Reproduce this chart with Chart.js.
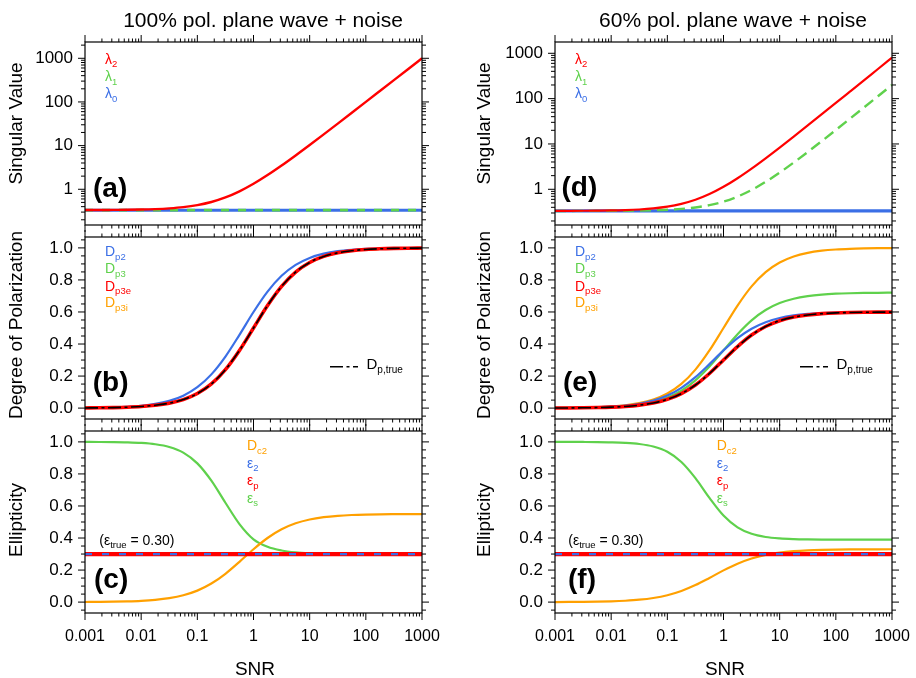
<!DOCTYPE html>
<html>
<head>
<meta charset="utf-8">
<script src="https://cdn.jsdelivr.net/npm/chart.js@4.4.1/dist/chart.umd.min.js"></script>
<style>
  html, body { margin: 0; padding: 0; background: #ffffff; }
  #wrap { position: relative; width: 916px; height: 678px; background: #ffffff; overflow: hidden; }
  #wrap canvas { position: absolute; left: 0; top: 0; }
</style>
</head>
<body>
<div id="wrap">
  <canvas id="pa" width="916" height="678"></canvas>
  <canvas id="pb" width="916" height="678"></canvas>
  <canvas id="pc" width="916" height="678"></canvas>
  <canvas id="pd" width="916" height="678"></canvas>
  <canvas id="pe" width="916" height="678"></canvas>
  <canvas id="pf" width="916" height="678"></canvas>
</div>
<script>
// ---- SNR sample points (quarter-decade steps) ----
const snr = [0.001, 0.001778, 0.003162, 0.005623, 0.01, 0.01778, 0.03162, 0.05623,
             0.1, 0.1778, 0.3162, 0.5623, 1, 1.778, 3.162, 5.623,
             10, 17.78, 31.62, 56.23, 100, 177.8, 316.2, 562.3, 1000];

// ---- tick labels ----
const xTickLabels = ['0.001', '0.01', '0.1', '1', '10', '100', '1000'];
const svTickLabels = ['1', '10', '100', '1000'];
const fracTickLabels = ['0.0', '0.2', '0.4', '0.6', '0.8', '1.0'];

// ---- (a) singular values, 100% polarized ----
const lam2A = [0.334, 0.335, 0.337, 0.339, 0.343, 0.351, 0.365, 0.389, 0.433, 0.511, 0.649, 0.896,
               1.333, 2.111, 3.495, 5.956, 10.33, 18.11, 31.95, 56.56, 100.3, 178.1, 316.5, 562.6, 1000.3];
const lam1A = [0.333, 0.333, 0.333, 0.333, 0.333, 0.333, 0.333, 0.333, 0.333, 0.333, 0.333, 0.333,
               0.333, 0.333, 0.333, 0.333, 0.333, 0.333, 0.333, 0.333, 0.333, 0.333, 0.333, 0.333, 0.333];
const lam0A = [0.333, 0.333, 0.333, 0.333, 0.333, 0.333, 0.333, 0.333, 0.333, 0.333, 0.333, 0.333,
               0.333, 0.333, 0.333, 0.333, 0.333, 0.333, 0.333, 0.333, 0.333, 0.333, 0.333, 0.333, 0.333];

// ---- (d) singular values, 60% polarized ----
const lam2D = [0.334, 0.335, 0.336, 0.338, 0.341, 0.347, 0.358, 0.378, 0.413, 0.476, 0.586, 0.783,
               1.133, 1.755, 2.863, 4.832, 8.333, 14.56, 25.63, 45.32, 80.33, 142.6, 253.3, 450.3, 800.3];
const lam1D = [0.333, 0.333, 0.334, 0.334, 0.335, 0.337, 0.340, 0.345, 0.353, 0.369, 0.397, 0.446,
               0.533, 0.689, 0.966, 1.458, 2.333, 3.889, 6.657, 11.58, 20.33, 35.89, 63.57, 112.8, 200.3];
const lam0D = [0.333, 0.333, 0.333, 0.333, 0.333, 0.333, 0.333, 0.333, 0.333, 0.333, 0.333, 0.333,
               0.333, 0.333, 0.333, 0.333, 0.333, 0.333, 0.333, 0.333, 0.333, 0.333, 0.333, 0.333, 0.333];

// ---- (b) degree of polarization, 100% polarized ----
const dp2B = [0.0015, 0.0027, 0.0047, 0.0084, 0.0148, 0.026, 0.0453, 0.0778, 0.1304, 0.2105, 0.3217, 0.4575,
              0.6, 0.7273, 0.8259, 0.894, 0.9375, 0.9638, 0.9794, 0.9883, 0.9934, 0.9963, 0.9979, 0.9988, 0.9993];
const dp3B = [0.001, 0.0018, 0.0032, 0.0056, 0.0099, 0.0175, 0.0307, 0.0532, 0.0909, 0.1509, 0.2402, 0.36,
              0.5, 0.64, 0.7598, 0.849, 0.9091, 0.9468, 0.9693, 0.9825, 0.9901, 0.9944, 0.9968, 0.9982, 0.999];
const dp3eB = dp3B;
const dp3iB = dp3B;
const dpTrueB = dp3B;

// ---- (e) degree of polarization, 60% polarized ----
const dp2E = [0.0009, 0.0016, 0.0028, 0.005, 0.0089, 0.0156, 0.0272, 0.0467, 0.0782, 0.1263, 0.193, 0.2745,
              0.36, 0.4364, 0.4955, 0.5364, 0.5625, 0.5783, 0.5876, 0.593, 0.596, 0.5978, 0.5987, 0.5993, 0.5996];
const dp3E = [0.0007, 0.0013, 0.0023, 0.004, 0.0071, 0.0126, 0.0221, 0.0384, 0.0656, 0.1088, 0.1732, 0.2596,
              0.3606, 0.4615, 0.5479, 0.6122, 0.6556, 0.6828, 0.699, 0.7085, 0.714, 0.717, 0.7188, 0.7198, 0.7204];
const dp3eE = [0.0006, 0.0011, 0.0019, 0.0034, 0.0059, 0.0105, 0.0184, 0.0319, 0.0545, 0.0905, 0.1441, 0.216,
               0.3, 0.384, 0.4559, 0.5094, 0.5455, 0.5681, 0.5816, 0.5895, 0.5941, 0.5966, 0.5981, 0.5989, 0.5994];
const dp3iE = [0.001, 0.0018, 0.0032, 0.0056, 0.0099, 0.0175, 0.0307, 0.0532, 0.0909, 0.1509, 0.2402, 0.36,
               0.5, 0.64, 0.7598, 0.849, 0.9091, 0.9468, 0.9693, 0.9825, 0.9901, 0.9944, 0.9968, 0.9982, 0.999];
const dpTrueE = dp3eE;

// ---- (c) ellipticity, 100% polarized ----
const dc2C = [0.0008, 0.0015, 0.0026, 0.0046, 0.0081, 0.0143, 0.0249, 0.0428, 0.0717, 0.1158, 0.1769, 0.2516,
              0.33, 0.4, 0.4542, 0.4917, 0.5156, 0.5301, 0.5387, 0.5436, 0.5464, 0.548, 0.5488, 0.5493, 0.5496];
const epsSC = [0.9997, 0.9994, 0.9987, 0.9971, 0.9935, 0.9855, 0.9685, 0.933, 0.866, 0.758, 0.62, 0.487,
               0.392, 0.345, 0.322, 0.3104, 0.3047, 0.3021, 0.3009, 0.3004, 0.3002, 0.3001, 0.3, 0.3, 0.3];
const eps2C = [0.3, 0.3, 0.3, 0.3, 0.3, 0.3, 0.3, 0.3, 0.3, 0.3, 0.3, 0.3,
               0.3, 0.3, 0.3, 0.3, 0.3, 0.3, 0.3, 0.3, 0.3, 0.3, 0.3, 0.3, 0.3];
const epsPC = [0.3, 0.3, 0.3, 0.3, 0.3, 0.3, 0.3, 0.3, 0.3, 0.3, 0.3, 0.3,
               0.3, 0.3, 0.3, 0.3, 0.3, 0.3, 0.3, 0.3, 0.3, 0.3, 0.3, 0.3, 0.3];

// ---- (f) ellipticity, 60% polarized ----
const dc2F = [0.0005, 0.0009, 0.0016, 0.0028, 0.0049, 0.0086, 0.0149, 0.0257, 0.043, 0.0695, 0.1062, 0.151,
              0.198, 0.24, 0.2725, 0.295, 0.3094, 0.318, 0.3232, 0.3261, 0.3278, 0.3288, 0.3293, 0.3296, 0.3298];
const epsSF = [1.0, 0.9998, 0.9995, 0.9989, 0.9974, 0.9942, 0.987, 0.9711, 0.938, 0.8747, 0.7739, 0.6506,
               0.5404, 0.4666, 0.4262, 0.4064, 0.3973, 0.3932, 0.3914, 0.3906, 0.3903, 0.3901, 0.39, 0.39, 0.39];
const eps2F = [0.3, 0.3, 0.3, 0.3, 0.3, 0.3, 0.3, 0.3, 0.3, 0.3, 0.3, 0.3,
               0.3, 0.3, 0.3, 0.3, 0.3, 0.3, 0.3, 0.3, 0.3, 0.3, 0.3, 0.3, 0.3];
const epsPF = [0.3, 0.3, 0.3, 0.3, 0.3, 0.3, 0.3, 0.3, 0.3, 0.3, 0.3, 0.3,
               0.3, 0.3, 0.3, 0.3, 0.3, 0.3, 0.3, 0.3, 0.3, 0.3, 0.3, 0.3, 0.3];

// ---- style ----
const FONT = '"Liberation Sans", Arimo, Arial, Helvetica, sans-serif';
const RED = '#ff0000', GREEN = '#5fd14c', BLUE = '#3b6fe6', ORANGE = '#ffa000', BLACK = '#000000';
const DASHDOT = [13, 3.5, 3, 3.5];

const COLS = { left: { l: 85, r: 422 }, right: { l: 555, r: 892 } };
const ROWS = [{ t: 42, b: 225 }, { t: 237, b: 419 }, { t: 431, b: 613 }];

const pts = ys => snr.map((x, i) => ({ x, y: ys[i] }));
const line = (label, ys, color, width, dash) => ({
  label, data: pts(ys), borderColor: color, borderWidth: width,
  borderDash: dash || [], pointRadius: 0, fill: false, cubicInterpolationMode: 'monotone'
});

// tick-mark positions
function logMarks(min, max) {
  const out = [];
  for (let e = Math.floor(Math.log10(min)); e <= Math.ceil(Math.log10(max)); e++) {
    for (let m = 1; m <= 9; m++) {
      const v = m * Math.pow(10, e);
      if (v >= min * 0.9999 && v <= max * 1.0001) out.push({ v, major: m === 1 });
    }
  }
  return out;
}
function fracMarks(min, max) {
  const out = [];
  for (let k = -4; k <= 24; k++) {
    const v = k * 0.05;
    if (v >= min && v <= max) out.push({ v, major: k % 4 === 0 });
  }
  return out;
}
const xMarks = logMarks(0.001, 1000);

function isDecade(v) {
  const lg = Math.log10(v);
  return Math.abs(lg - Math.round(lg)) < 1e-6 ? Math.round(lg) : null;
}
const xLabel = v => { const e = isDecade(v); return (e !== null && e >= -3 && e <= 3) ? xTickLabels[e + 3] : ''; };
const svLabel = v => { const e = isDecade(v); return (e !== null && e >= 0 && e <= 3) ? svTickLabels[e] : ''; };
const fracLabel = v => {
  const k = Math.round(v / 0.2);
  return (Math.abs(v - k * 0.2) < 1e-6 && k >= 0 && k <= 5) ? fracTickLabels[k] : '';
};

// ---- text helpers ----
const M = 14, S = 9.5;
function rich(x, y, color, parts, main, sub) {
  return { x, y, color, parts, main: main || M, sub: sub || S };
}
function drawRich(ctx, item) {
  let cx = item.x;
  ctx.fillStyle = item.color;
  ctx.textAlign = 'left';
  ctx.textBaseline = 'alphabetic';
  for (const [t, kind] of item.parts) {
    const size = kind === 's' ? item.sub : item.main;
    const dy = kind === 's' ? item.main * 0.27 : 0;
    ctx.font = size + 'px ' + FONT;
    ctx.fillText(t, cx, item.y + dy);
    cx += ctx.measureText(t).width;
  }
}

const decorById = {};

const decorPlugin = {
  id: 'decor',
  afterDraw(chart) {
    const d = decorById[chart.canvas.id];
    if (!d) return;
    const ctx = chart.ctx;
    const a = chart.chartArea;
    const xs = chart.scales.x, ys = chart.scales.y;
    ctx.save();
    // frame
    ctx.strokeStyle = BLACK;
    ctx.lineWidth = 1.2;
    ctx.setLineDash([]);
    ctx.strokeRect(a.left, a.top, a.right - a.left, a.bottom - a.top);
    // outward tick marks on all four sides
    ctx.lineWidth = 1;
    ctx.beginPath();
    for (const t of xMarks) {
      const px = xs.getPixelForValue(t.v);
      const len = t.major ? 7 : 3.5;
      ctx.moveTo(px, a.top); ctx.lineTo(px, a.top - len);
      ctx.moveTo(px, a.bottom); ctx.lineTo(px, a.bottom + len);
    }
    for (const t of d.yMarks) {
      const py = ys.getPixelForValue(t.v);
      const len = t.major ? 7 : 4;
      ctx.moveTo(a.left, py); ctx.lineTo(a.left - len, py);
      ctx.moveTo(a.right, py); ctx.lineTo(a.right + len, py);
    }
    ctx.stroke();
    // legend entries
    for (const item of d.texts) drawRich(ctx, item);
    // dash-dot legend sample
    if (d.sample) {
      ctx.strokeStyle = BLACK;
      ctx.lineWidth = 1.6;
      ctx.setLineDash(DASHDOT);
      ctx.beginPath();
      ctx.moveTo(d.sample.x1, d.sample.y);
      ctx.lineTo(d.sample.x2, d.sample.y);
      ctx.stroke();
      ctx.setLineDash([]);
    }
    // panel tag
    ctx.fillStyle = BLACK;
    ctx.font = 'bold 28px ' + FONT;
    ctx.textAlign = 'left';
    ctx.textBaseline = 'alphabetic';
    ctx.fillText(d.tag.t, d.tag.x, d.tag.y);
    // y-axis title
    ctx.save();
    ctx.translate(d.ytitle.x, d.ytitle.y);
    ctx.rotate(-Math.PI / 2);
    ctx.font = '19px ' + FONT;
    ctx.textAlign = 'center';
    ctx.textBaseline = 'middle';
    ctx.fillText(d.ytitle.t, 0, 0);
    ctx.restore();
    // column title
    if (d.title) {
      ctx.font = '21px ' + FONT;
      ctx.textAlign = 'center';
      ctx.textBaseline = 'alphabetic';
      ctx.fillText(d.title.t, d.title.x, d.title.y);
    }
    // x-axis title
    if (d.xtitle) {
      ctx.font = '19px ' + FONT;
      ctx.textAlign = 'center';
      ctx.textBaseline = 'alphabetic';
      ctx.fillText(d.xtitle.t, d.xtitle.x, d.xtitle.y);
    }
    ctx.restore();
  }
};

function makePanel(id, col, row, yScale, datasets) {
  const c = COLS[col], rw = ROWS[row];
  const bottomRow = row === 2;
  const xAxisH = bottomRow ? 40 : 0;
  return new Chart(document.getElementById(id), {
    type: 'line',
    data: { datasets },
    options: {
      responsive: false,
      animation: false,
      devicePixelRatio: 1,
      events: [],
      layout: { padding: { left: 0, top: rw.t, right: 916 - c.r, bottom: 678 - rw.b - xAxisH } },
      plugins: { legend: { display: false }, tooltip: { enabled: false } },
      scales: {
        x: {
          type: 'logarithmic', min: 0.001, max: 1000, display: bottomRow,
          grid: { display: false, drawTicks: false }, border: { display: false },
          ticks: { autoSkip: false, maxRotation: 0, minRotation: 0, padding: 14, color: BLACK,
                   font: { family: FONT, size: 16 }, callback: xLabel },
          afterFit: s => { s.height = xAxisH; s.paddingLeft = 0; s.paddingRight = 0; }
        },
        y: Object.assign({
          grid: { display: false, drawTicks: false }, border: { display: false },
          afterFit: s => { s.width = c.l; s.paddingTop = 0; s.paddingBottom = 0; }
        }, yScale)
      }
    },
    plugins: [decorPlugin]
  });
}

const yTicksFont = { family: FONT, size: 17 };
const logY = (min, max) => ({ type: 'logarithmic', min, max,
  ticks: { autoSkip: false, padding: 12, color: BLACK, font: yTicksFont, callback: svLabel } });
const fracY = () => ({ type: 'linear', min: -0.068, max: 1.068,
  ticks: { autoSkip: false, stepSize: 0.2, includeBounds: false, padding: 12, color: BLACK, font: yTicksFont, callback: fracLabel } });

// ---- panel decorations ----
decorById.pa = {
  yMarks: logMarks(0.152, 2360),
  texts: [
    rich(105, 63.5, RED, [['λ', 'm'], ['2', 's']]),
    rich(105, 81, GREEN, [['λ', 'm'], ['1', 's']]),
    rich(105, 98, BLUE, [['λ', 'm'], ['0', 's']])
  ],
  tag: { t: '(a)', x: 93, y: 197 },
  ytitle: { t: 'Singular Value', x: 17, y: 123.5 },
  title: { t: '100% pol. plane wave + noise', x: 263, y: 26.5 }
};
decorById.pd = {
  yMarks: logMarks(0.163, 1775),
  texts: [
    rich(575, 63.5, RED, [['λ', 'm'], ['2', 's']]),
    rich(575, 81, GREEN, [['λ', 'm'], ['1', 's']]),
    rich(575, 98, BLUE, [['λ', 'm'], ['0', 's']])
  ],
  tag: { t: '(d)', x: 561.5, y: 196 },
  ytitle: { t: 'Singular Value', x: 485, y: 123.5 },
  title: { t: '60% pol. plane wave + noise', x: 733, y: 26.5 }
};
decorById.pb = {
  yMarks: fracMarks(-0.068, 1.068),
  texts: [
    rich(105, 256, BLUE, [['D', 'm'], ['p2', 's']]),
    rich(105, 273.3, GREEN, [['D', 'm'], ['p3', 's']]),
    rich(105, 290.7, RED, [['D', 'm'], ['p3e', 's']]),
    rich(105, 307.3, ORANGE, [['D', 'm'], ['p3i', 's']]),
    rich(366.5, 369, BLACK, [['D', 'm'], ['p,true', 's']], 15, 10)
  ],
  sample: { x1: 330, x2: 358, y: 366.7 },
  tag: { t: '(b)', x: 92.7, y: 391 },
  ytitle: { t: 'Degree of Polarization', x: 17, y: 325 }
};
decorById.pe = {
  yMarks: fracMarks(-0.068, 1.068),
  texts: [
    rich(575, 256, BLUE, [['D', 'm'], ['p2', 's']]),
    rich(575, 273.3, GREEN, [['D', 'm'], ['p3', 's']]),
    rich(575, 290.7, RED, [['D', 'm'], ['p3e', 's']]),
    rich(575, 307.3, ORANGE, [['D', 'm'], ['p3i', 's']]),
    rich(836.5, 369, BLACK, [['D', 'm'], ['p,true', 's']], 15, 10)
  ],
  sample: { x1: 800, x2: 828, y: 366.7 },
  tag: { t: '(e)', x: 563, y: 391 },
  ytitle: { t: 'Degree of Polarization', x: 485, y: 325 }
};
decorById.pc = {
  yMarks: fracMarks(-0.068, 1.068),
  texts: [
    rich(247, 450, ORANGE, [['D', 'm'], ['c2', 's']]),
    rich(247, 467.5, BLUE, [['ε', 'm'], ['2', 's']]),
    rich(247, 485, RED, [['ε', 'm'], ['p', 's']]),
    rich(247, 502.5, GREEN, [['ε', 'm'], ['s', 's']]),
    rich(99.3, 544.5, BLACK, [['(ε', 'm'], ['true', 's'], [' = 0.30)', 'm']])
  ],
  tag: { t: '(c)', x: 94, y: 587.5 },
  ytitle: { t: 'Ellipticity', x: 17, y: 520 },
  xtitle: { t: 'SNR', x: 255, y: 675 }
};
decorById.pf = {
  yMarks: fracMarks(-0.068, 1.068),
  texts: [
    rich(716.7, 450, ORANGE, [['D', 'm'], ['c2', 's']]),
    rich(716.7, 467.5, BLUE, [['ε', 'm'], ['2', 's']]),
    rich(716.7, 485, RED, [['ε', 'm'], ['p', 's']]),
    rich(716.7, 502.5, GREEN, [['ε', 'm'], ['s', 's']]),
    rich(568.3, 544.5, BLACK, [['(ε', 'm'], ['true', 's'], [' = 0.30)', 'm']])
  ],
  tag: { t: '(f)', x: 568, y: 587.5 },
  ytitle: { t: 'Ellipticity', x: 485, y: 520 },
  xtitle: { t: 'SNR', x: 725, y: 675 }
};

// ---- charts (first dataset is drawn on top) ----
makePanel('pa', 'left', 0, logY(0.152, 2360), [
  line('λ2', lam2A, RED, 2.4),
  line('λ1', lam1A, GREEN, 2.6, [8, 9]),
  line('λ0', lam0A, BLUE, 3)
]);
makePanel('pd', 'right', 0, logY(0.163, 1775), [
  line('λ2', lam2D, RED, 2.2),
  line('λ1', lam1D, GREEN, 2.4, [11, 6]),
  line('λ0', lam0D, BLUE, 3.2)
]);
makePanel('pb', 'left', 1, fracY(), [
  line('Dp,true', dpTrueB, BLACK, 1.6, DASHDOT),
  line('Dp3e', dp3eB, RED, 3.6),
  line('Dp3i', dp3iB, ORANGE, 2.2),
  line('Dp3', dp3B, GREEN, 2.2),
  line('Dp2', dp2B, BLUE, 2.2)
]);
makePanel('pe', 'right', 1, fracY(), [
  line('Dp,true', dpTrueE, BLACK, 1.6, DASHDOT),
  line('Dp3e', dp3eE, RED, 3.6),
  line('Dp2', dp2E, BLUE, 2.2),
  line('Dp3', dp3E, GREEN, 2.2),
  line('Dp3i', dp3iE, ORANGE, 2.2)
]);
makePanel('pc', 'left', 2, fracY(), [
  line('ε2', eps2C, BLUE, 2.2, [7, 10]),
  line('εp', epsPC, RED, 4.2),
  line('Dc2', dc2C, ORANGE, 2.2),
  line('εs', epsSC, GREEN, 2.2)
]);
makePanel('pf', 'right', 2, fracY(), [
  line('ε2', eps2F, BLUE, 2.2, [7, 10]),
  line('εp', epsPF, RED, 4.2),
  line('Dc2', dc2F, ORANGE, 2.2),
  line('εs', epsSF, GREEN, 2.2)
]);
</script>
</body>
</html>
